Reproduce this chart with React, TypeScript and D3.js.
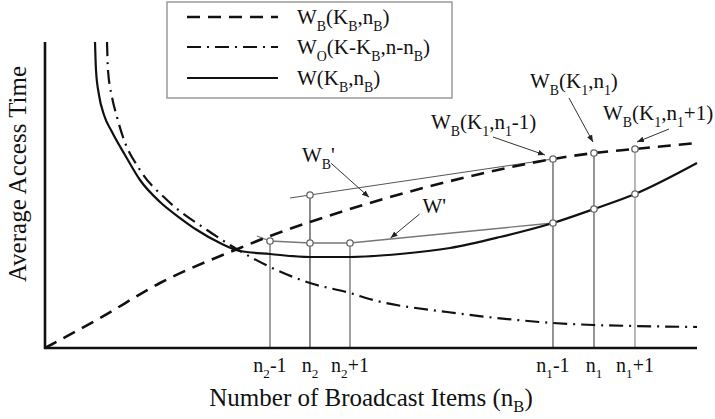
import React from "react";
import * as d3 from "d3";

const WIDTH = 715;
const HEIGHT = 419;

// ---- data (abstract units: x = number of broadcast items, y = access time) ----
const totalW: [number, number][] = [
  [7.67, 100], [7.82, 90.85], [8.28, 82.68], [9.05, 76.14], [10.28, 70.59],
  [12.27, 63.07], [14.57, 54.9], [17.64, 47.71], [20.71, 42.48], [23.31, 38.56],
  [26.84, 34.31], [29.91, 31.7], [34.51, 30.72], [40.64, 29.74], [46.78, 29.74],
  [54.45, 30.72], [62.12, 32.68], [69.79, 36.27], [77.91, 40.85], [84.2, 45.42],
  [90.49, 50.33], [100, 60.46],
];
const otherW: [number, number][] = [
  [9.51, 100], [9.66, 90.85], [10.28, 82.03], [11.04, 75.49], [11.96, 68.95],
  [14.57, 58.17], [18.71, 48.37], [24.85, 38.56], [29.91, 31.7], [34.51, 26.47],
  [40.64, 21.24], [46.78, 17.97], [50.31, 15.69], [61.66, 11.76], [72.39, 9.15],
  [77.91, 8.17], [84.2, 7.52], [90.49, 7.19], [100, 6.86],
];
const broadcastW: [number, number][] = [
  [0, 0], [8.44, 9.8], [17.64, 21.24], [29.91, 32.7],
  [34.51, 36.6], [40.64, 41.18], [49.85, 47.39], [57.98, 52.29], [66.72, 56.86],
  [77.91, 61.76], [84.2, 63.73], [90.49, 65.03], [100, 66.99],
];
// tangent estimate W_B'
const wbPrime: [number, number][] = [[37.58, 49.02], [40.64, 50.0], [77.91, 61.76]];
// estimate W'
const wPrime: [number, number][] = [
  [32.5, 36.6], [34.51, 34.97], [40.64, 34.31], [46.78, 34.31], [77.91, 40.85],
];

const tickValues = [34.51, 40.64, 46.78, 77.91, 84.2, 90.49];
const tickLabels = ["n_{2}-1", "n_{2}", "n_{2}+1", "n_{1}-1", "n_{1}", "n_{1}+1"];
// top of each vertical guide line
const guideTops = [34.97, 50.0, 34.31, 61.76, 63.73, 65.03];
const guideColors = ["#8a8a8a", "#6f6f6f", "#8a8a8a", "#7a7a7a", "#7a7a7a", "#a8a8a8"];

// marker circles
const markers: [number, number][] = [
  [34.51, 34.97], [40.64, 34.31], [46.78, 34.31], [40.64, 50.0],
  [77.91, 40.85], [84.2, 45.42], [90.49, 50.33],
  [77.91, 61.76], [84.2, 63.73], [90.49, 65.03],
];

const legendLabels = ["W_{B}(K_{B},n_{B})", "W_{O}(K-K_{B},n-n_{B})", "W(K_{B},n_{B})"];
const legendDash = ["13,8", "14,6,2,6", "none"];
const legendWidth = [2.6, 2.2, 2.2];

// annotations: anchor data point, arrow tip offset, arrow tail offset, text offset
const annotations = [
  { label: "W_{B}(K_{1},n_{1}-1)", pt: [77.91, 61.76], tip: [-8, -4], tail: [-60, -22], txt: [-122, -30] },
  { label: "W_{B}(K_{1},n_{1})", pt: [84.2, 63.73], tip: [-1, -11], tail: [-25, -55], txt: [-64, -65] },
  { label: "W_{B}(K_{1},n_{1}+1)", pt: [90.49, 65.03], tip: [2, -7], tail: [34, -20], txt: [-32, -29] },
  { label: "W_{B}'", pt: [49.7, 48.3], tip: [0, -3], tail: [-38, -37], txt: [-67, -38] },
  { label: "W'", pt: [53.0, 35.6], tip: [0, -1], tail: [29, -25], txt: [32, -26] },
];

const FONT = "'Liberation Serif', 'Times New Roman', serif";

function parse(s: string) {
  const segs: { t: string; sub: boolean }[] = [];
  const re = /_\{([^}]*)\}/g;
  let last = 0;
  let m: RegExpExecArray | null;
  while ((m = re.exec(s))) {
    if (m.index > last) segs.push({ t: s.slice(last, m.index), sub: false });
    segs.push({ t: m[1], sub: true });
    last = m.index + m[0].length;
  }
  if (last < s.length) segs.push({ t: s.slice(last), sub: false });
  return segs;
}

function Rich(props: { x: number; y: number; text: string; size: number; anchor?: string; transform?: string; subShift?: number }) {
  const { x, y, text, size, anchor, transform, subShift } = props;
  const segs = parse(text);
  const shift = size * (subShift ?? 0.32);
  let cur = 0;
  return (
    <text x={x} y={y} fontSize={size} fontFamily={FONT} fill="#111" textAnchor={anchor || "start"} transform={transform}>
      {segs.map((s, i) => {
        const target = s.sub ? shift : 0;
        const dy = target - cur;
        cur = target;
        return (
          <tspan key={i} dy={dy} fontSize={s.sub ? size * 0.66 : size}>
            {s.t}
          </tspan>
        );
      })}
    </text>
  );
}

export default function App() {
  const x = d3.scaleLinear().domain([0, 100]).range([45, 697]);
  const y = d3.scaleLinear().domain([0, 100]).range([348, 42]);
  const line = d3
    .line<[number, number]>()
    .x((d) => x(d[0]))
    .y((d) => y(d[1]))
    .curve(d3.curveMonotoneX);
  const straight = d3
    .line<[number, number]>()
    .x((d) => x(d[0]))
    .y((d) => y(d[1]));

  const legendRows = [17, 47, 78];

  return (
    <svg width={WIDTH} height={HEIGHT} style={{ position: "absolute", left: 0, top: 0, background: "#fff" }}>
      <defs>
        <marker id="arr" viewBox="0 0 10 10" refX="10" refY="5" markerWidth="7" markerHeight="7" orient="auto" markerUnits="userSpaceOnUse">
          <path d="M0,1 L10,5 L0,9 z" fill="#222" />
        </marker>
      </defs>
      <rect width={WIDTH} height={HEIGHT} fill="#fff" />

      {/* vertical guides */}
      {tickValues.map((v, i) => (
        <line key={"g" + i} x1={x(v)} x2={x(v)} y1={y(0)} y2={y(guideTops[i])} stroke={guideColors[i]} strokeWidth={1.6} />
      ))}

      {/* thin estimate lines */}
      <path d={straight(wbPrime) || ""} fill="none" stroke="#555" strokeWidth={1} />
      <path d={straight(wPrime) || ""} fill="none" stroke="#777" strokeWidth={1.3} />

      {/* curves */}
      <path d={line(broadcastW) || ""} fill="none" stroke="#111" strokeWidth={2.6} strokeDasharray="13,8" />
      <path d={line(otherW) || ""} fill="none" stroke="#111" strokeWidth={2.2} strokeDasharray="14,6,2,6" />
      <path d={line(totalW) || ""} fill="none" stroke="#111" strokeWidth={2.2} />

      {/* markers */}
      {markers.map((d, i) => (
        <circle key={"m" + i} cx={x(d[0])} cy={y(d[1])} r={3.2} fill="#fff" stroke="#666" strokeWidth={1.3} />
      ))}

      {/* axes */}
      <line x1={x(0)} x2={x(0)} y1={y(0) + 1} y2={y(100)} stroke="#111" strokeWidth={2.6} />
      <line x1={x(0) - 1} x2={x(100)} y1={y(0)} y2={y(0)} stroke="#111" strokeWidth={2.6} />

      {/* tick labels */}
      {tickValues.map((v, i) => (
        <Rich key={"t" + i} x={x(v)} y={372} text={tickLabels[i]} size={20} anchor="middle" />
      ))}

      {/* axis titles */}
      <Rich x={371} y={406} text="Number of Broadcast Items (n_{B})" size={25} anchor="middle" subShift={0.24} />
      <Rich x={0} y={0} text="Average Access Time" size={25} anchor="middle" transform="translate(26,174) rotate(-90)" />

      {/* annotations */}
      {annotations.map((a, i) => {
        const px = x(a.pt[0]);
        const py = y(a.pt[1]);
        return (
          <g key={"a" + i}>
            <line
              x1={px + a.tail[0]}
              y1={py + a.tail[1]}
              x2={px + a.tip[0]}
              y2={py + a.tip[1]}
              stroke="#333"
              strokeWidth={1}
              markerEnd="url(#arr)"
            />
            <Rich x={px + a.txt[0]} y={py + a.txt[1]} text={a.label} size={21} />
          </g>
        );
      })}

      {/* legend */}
      <rect x={167} y={2} width={285} height={96} fill="#fff" stroke="#9a9a9a" strokeWidth={1.5} />
      {legendLabels.map((l, i) => (
        <g key={"l" + i}>
          <line x1={187} x2={278} y1={legendRows[i]} y2={legendRows[i]} stroke="#111" strokeWidth={legendWidth[i]} strokeDasharray={legendDash[i]} />
          <Rich x={297} y={legendRows[i] + 7} text={l} size={21} />
        </g>
      ))}
    </svg>
  );
}
